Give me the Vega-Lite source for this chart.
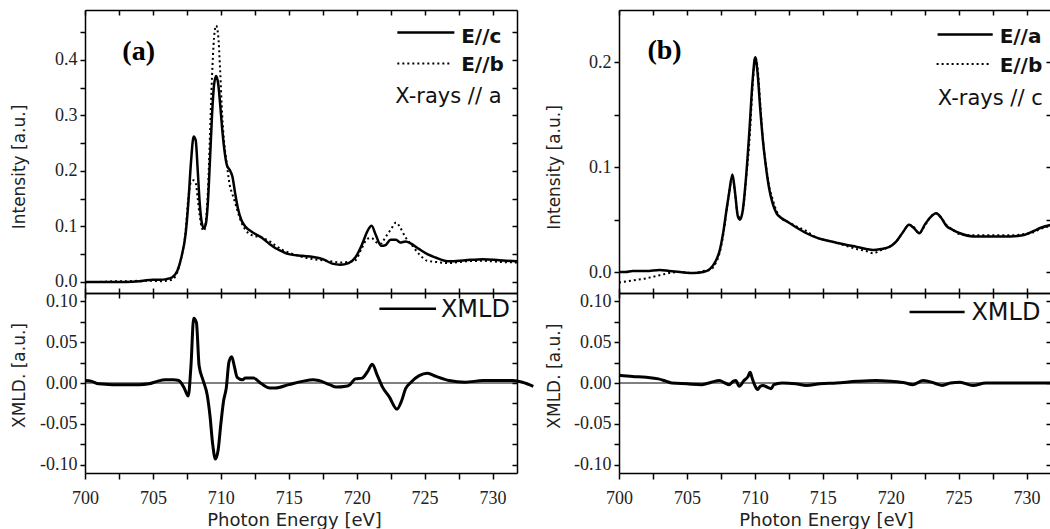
{
  "$schema": "https://vega.github.io/schema/vega-lite/v6.json",
  "autosize": {"type": "pad"},
  "padding": {"left": 9, "top": 9, "right": 0, "bottom": 0},
  "background": "white",
  "config": {
    "view": {"stroke": null},
    "axis": {
      "domainColor": "#000", "domainWidth": 1.5, "tickColor": "#000", "tickWidth": 1.5,
      "labelFont": "Liberation Serif", "labelFontSize": 18, "labelColor": "#222",
      "titleFont": "DejaVu Sans", "titleFontSize": 17, "titleFontWeight": "normal", "titleColor": "#222",
      "grid": false, "labelOverlap": false, "labelFlush": false, "labelBound": false
    }
  },
  "datasets": {
    "aC": [
      {"E":700,"I":0},{"E":700.5,"I":0},{"E":701,"I":0},{"E":702,"I":0},{"E":703,"I":0},{"E":704,"I":0.001},{"E":704.5,"I":0.003},{"E":705,"I":0.004},{"E":705.5,"I":0.004},{"E":706,"I":0.005},{"E":706.4,"I":0.008},{"E":706.8,"I":0.02},{"E":707.1,"I":0.045},{"E":707.4,"I":0.085},{"E":707.6,"I":0.14},{"E":707.8,"I":0.215},{"E":708,"I":0.262},{"E":708.15,"I":0.255},{"E":708.3,"I":0.2},{"E":708.45,"I":0.14},{"E":708.6,"I":0.106},{"E":708.75,"I":0.097},{"E":708.9,"I":0.105},{"E":709.05,"I":0.145},{"E":709.2,"I":0.22},{"E":709.35,"I":0.3},{"E":709.5,"I":0.355},{"E":709.65,"I":0.371},{"E":709.8,"I":0.358},{"E":709.95,"I":0.32},{"E":710.1,"I":0.275},{"E":710.25,"I":0.24},{"E":710.45,"I":0.21},{"E":710.65,"I":0.202},{"E":710.85,"I":0.19},{"E":711.05,"I":0.16},{"E":711.25,"I":0.133},{"E":711.5,"I":0.112},{"E":711.8,"I":0.1},{"E":712.3,"I":0.09},{"E":713,"I":0.08},{"E":713.6,"I":0.068},{"E":714,"I":0.061},{"E":714.5,"I":0.055},{"E":715,"I":0.05},{"E":716,"I":0.047},{"E":716.8,"I":0.045},{"E":717.5,"I":0.041},{"E":718.2,"I":0.033},{"E":718.8,"I":0.031},{"E":719.4,"I":0.034},{"E":719.9,"I":0.044},{"E":720.4,"I":0.068},{"E":720.8,"I":0.092},{"E":721.1,"I":0.101},{"E":721.4,"I":0.085},{"E":721.8,"I":0.065},{"E":722.1,"I":0.066},{"E":722.5,"I":0.076},{"E":722.9,"I":0.076},{"E":723.2,"I":0.071},{"E":723.6,"I":0.073},{"E":724,"I":0.069},{"E":724.6,"I":0.059},{"E":725.2,"I":0.05},{"E":725.8,"I":0.044},{"E":726.8,"I":0.037},{"E":728,"I":0.039},{"E":729.3,"I":0.041},{"E":730.5,"I":0.039},{"E":731.8,"I":0.037}
    ],
    "aB": [
      {"E":700,"I":-0.001},{"E":700.5,"I":0},{"E":701,"I":0},{"E":702,"I":0.001},{"E":703,"I":0.001},{"E":704,"I":0.002},{"E":704.5,"I":0.002},{"E":705,"I":0.002},{"E":705.5,"I":0.001},{"E":706,"I":0.002},{"E":706.4,"I":0.004},{"E":706.8,"I":0.018},{"E":707.1,"I":0.045},{"E":707.4,"I":0.09},{"E":707.6,"I":0.15},{"E":707.8,"I":0.18},{"E":708,"I":0.183},{"E":708.15,"I":0.178},{"E":708.3,"I":0.15},{"E":708.45,"I":0.118},{"E":708.6,"I":0.098},{"E":708.75,"I":0.092},{"E":708.9,"I":0.11},{"E":709.05,"I":0.165},{"E":709.2,"I":0.265},{"E":709.35,"I":0.37},{"E":709.5,"I":0.44},{"E":709.65,"I":0.462},{"E":709.8,"I":0.445},{"E":709.95,"I":0.38},{"E":710.1,"I":0.3},{"E":710.25,"I":0.25},{"E":710.45,"I":0.21},{"E":710.65,"I":0.175},{"E":710.85,"I":0.158},{"E":711.05,"I":0.143},{"E":711.25,"I":0.126},{"E":711.5,"I":0.108},{"E":711.8,"I":0.094},{"E":712.3,"I":0.084},{"E":713,"I":0.08},{"E":713.6,"I":0.073},{"E":714,"I":0.066},{"E":714.5,"I":0.058},{"E":715,"I":0.053},{"E":716,"I":0.045},{"E":716.8,"I":0.041},{"E":717.5,"I":0.039},{"E":718.2,"I":0.037},{"E":718.8,"I":0.035},{"E":719.4,"I":0.036},{"E":719.9,"I":0.039},{"E":720.4,"I":0.062},{"E":720.8,"I":0.078},{"E":721.1,"I":0.079},{"E":721.4,"I":0.072},{"E":721.8,"I":0.069},{"E":722.1,"I":0.08},{"E":722.5,"I":0.094},{"E":722.9,"I":0.107},{"E":723.2,"I":0.098},{"E":723.6,"I":0.08},{"E":724,"I":0.068},{"E":724.6,"I":0.05},{"E":725.2,"I":0.038},{"E":725.8,"I":0.036},{"E":726.8,"I":0.034},{"E":728,"I":0.037},{"E":729.3,"I":0.038},{"E":730.5,"I":0.036},{"E":731.8,"I":0.035}
    ],
    "aX": [
      {"E":700,"X":0.003},{"E":700.5,"X":0.002},{"E":701,"X":-0.001},{"E":702,"X":-0.002},{"E":703,"X":-0.002},{"E":704,"X":-0.002},{"E":704.7,"X":-0.001},{"E":705.3,"X":0.002},{"E":705.9,"X":0.004},{"E":706.5,"X":0.004},{"E":706.9,"X":0.003},{"E":707.3,"X":-0.006},{"E":707.6,"X":-0.016},{"E":707.8,"X":0.021},{"E":708,"X":0.079},{"E":708.2,"X":0.074},{"E":708.4,"X":0.021},{"E":708.7,"X":0.003},{"E":709,"X":-0.015},{"E":709.2,"X":-0.04},{"E":709.4,"X":-0.075},{"E":709.6,"X":-0.093},{"E":709.8,"X":-0.082},{"E":710,"X":-0.05},{"E":710.2,"X":-0.022},{"E":710.4,"X":-0.006},{"E":710.6,"X":0.026},{"E":710.8,"X":0.032},{"E":711,"X":0.02},{"E":711.2,"X":0.007},{"E":711.6,"X":0.004},{"E":711.8,"X":0.006},{"E":712.4,"X":0.006},{"E":713,"X":-0.001},{"E":713.6,"X":-0.006},{"E":714,"X":-0.006},{"E":715,"X":-0.002},{"E":716,"X":0.002},{"E":716.8,"X":0.004},{"E":717.2,"X":0.003},{"E":718,"X":-0.002},{"E":718.5,"X":-0.005},{"E":719.2,"X":-0.004},{"E":719.5,"X":-0.002},{"E":719.9,"X":0.005},{"E":720.4,"X":0.006},{"E":720.8,"X":0.014},{"E":721.15,"X":0.023},{"E":721.5,"X":0.01},{"E":721.9,"X":-0.005},{"E":722.4,"X":-0.017},{"E":722.97,"X":-0.032},{"E":723.3,"X":-0.022},{"E":723.6,"X":-0.007},{"E":724,"X":0.001},{"E":724.6,"X":0.009},{"E":725.2,"X":0.012},{"E":725.85,"X":0.008},{"E":726.8,"X":0.003},{"E":728,"X":0.001},{"E":729.3,"X":0.003},{"E":730.5,"X":0.003},{"E":731.5,"X":0.003},{"E":732.2,"X":0.001},{"E":733,"X":-0.004}
    ],
    "bA": [
      {"E":700,"I":0},{"E":700.5,"I":0},{"E":701,"I":0.001},{"E":702,"I":0.001},{"E":703,"I":0.002},{"E":703.7,"I":0.001},{"E":704.5,"I":0},{"E":705.5,"I":-0.001},{"E":706.2,"I":0},{"E":706.7,"I":0.003},{"E":707.1,"I":0.01},{"E":707.4,"I":0.02},{"E":707.7,"I":0.04},{"E":707.9,"I":0.058},{"E":708.1,"I":0.075},{"E":708.35,"I":0.093},{"E":708.55,"I":0.075},{"E":708.75,"I":0.053},{"E":708.9,"I":0.05},{"E":709.1,"I":0.058},{"E":709.35,"I":0.09},{"E":709.6,"I":0.135},{"E":709.85,"I":0.185},{"E":710.03,"I":0.205},{"E":710.2,"I":0.19},{"E":710.4,"I":0.155},{"E":710.6,"I":0.125},{"E":710.8,"I":0.102},{"E":711.05,"I":0.08},{"E":711.3,"I":0.066},{"E":711.6,"I":0.056},{"E":711.9,"I":0.052},{"E":712.4,"I":0.048},{"E":713,"I":0.043},{"E":713.8,"I":0.037},{"E":714.5,"I":0.033},{"E":715,"I":0.031},{"E":716,"I":0.028},{"E":716.7,"I":0.026},{"E":717.5,"I":0.024},{"E":718.2,"I":0.022},{"E":718.7,"I":0.021},{"E":719.3,"I":0.022},{"E":719.9,"I":0.024},{"E":720.4,"I":0.029},{"E":720.9,"I":0.038},{"E":721.35,"I":0.045},{"E":721.7,"I":0.042},{"E":722.1,"I":0.037},{"E":722.5,"I":0.045},{"E":722.9,"I":0.052},{"E":723.35,"I":0.056},{"E":723.7,"I":0.052},{"E":724.1,"I":0.044},{"E":724.6,"I":0.04},{"E":725.1,"I":0.037},{"E":726.05,"I":0.034},{"E":727,"I":0.034},{"E":727.8,"I":0.034},{"E":728.8,"I":0.034},{"E":729.7,"I":0.035},{"E":730.5,"I":0.039},{"E":731,"I":0.042},{"E":731.8,"I":0.045}
    ],
    "bB": [
      {"E":700,"I":-0.01},{"E":700.5,"I":-0.009},{"E":701,"I":-0.008},{"E":702,"I":-0.006},{"E":703,"I":-0.003},{"E":703.7,"I":-0.001},{"E":704.5,"I":0},{"E":705.5,"I":-0.001},{"E":706.2,"I":0.001},{"E":706.7,"I":0.002},{"E":707.1,"I":0.008},{"E":707.4,"I":0.018},{"E":707.7,"I":0.038},{"E":707.9,"I":0.057},{"E":708.1,"I":0.075},{"E":708.35,"I":0.091},{"E":708.55,"I":0.074},{"E":708.75,"I":0.054},{"E":708.9,"I":0.052},{"E":709.1,"I":0.057},{"E":709.35,"I":0.088},{"E":709.6,"I":0.125},{"E":709.85,"I":0.18},{"E":710.03,"I":0.205},{"E":710.2,"I":0.195},{"E":710.4,"I":0.16},{"E":710.6,"I":0.125},{"E":710.8,"I":0.104},{"E":711.05,"I":0.082},{"E":711.3,"I":0.07},{"E":711.6,"I":0.058},{"E":711.9,"I":0.052},{"E":712.4,"I":0.048},{"E":713,"I":0.044},{"E":713.8,"I":0.039},{"E":714.5,"I":0.033},{"E":715,"I":0.031},{"E":716,"I":0.028},{"E":716.7,"I":0.025},{"E":717.5,"I":0.022},{"E":718.2,"I":0.02},{"E":718.7,"I":0.018},{"E":719.3,"I":0.021},{"E":719.9,"I":0.024},{"E":720.4,"I":0.029},{"E":720.9,"I":0.038},{"E":721.35,"I":0.045},{"E":721.7,"I":0.043},{"E":722.1,"I":0.037},{"E":722.5,"I":0.044},{"E":722.9,"I":0.052},{"E":723.35,"I":0.056},{"E":723.7,"I":0.052},{"E":724.1,"I":0.045},{"E":724.6,"I":0.04},{"E":725.1,"I":0.036},{"E":726.05,"I":0.035},{"E":727,"I":0.035},{"E":727.8,"I":0.035},{"E":728.8,"I":0.035},{"E":729.7,"I":0.036},{"E":730.5,"I":0.038},{"E":731,"I":0.041},{"E":731.8,"I":0.044}
    ],
    "bX": [
      {"E":700,"X":0.0094},{"E":701,"X":0.008},{"E":702,"X":0.007},{"E":702.9,"X":0.005},{"E":703.5,"X":0.002},{"E":703.9,"X":0},{"E":705,"X":-0.001},{"E":706.1,"X":-0.002},{"E":706.8,"X":0.001},{"E":707.4,"X":0.003},{"E":707.8,"X":0},{"E":708.1,"X":-0.002},{"E":708.4,"X":0.002},{"E":708.6,"X":0.003},{"E":708.85,"X":-0.004},{"E":709.2,"X":0.003},{"E":709.5,"X":0.008},{"E":709.65,"X":0.013},{"E":709.8,"X":0.006},{"E":710,"X":-0.003},{"E":710.2,"X":-0.008},{"E":710.4,"X":-0.004},{"E":710.6,"X":-0.003},{"E":710.9,"X":-0.005},{"E":711.2,"X":-0.007},{"E":711.4,"X":-0.002},{"E":712,"X":0},{"E":713,"X":-0.001},{"E":713.8,"X":-0.003},{"E":714.8,"X":-0.001},{"E":716,"X":0},{"E":717.5,"X":0.002},{"E":718.9,"X":0.003},{"E":720,"X":0.002},{"E":721.1,"X":0},{"E":721.6,"X":-0.002},{"E":722.4,"X":0.003},{"E":723.2,"X":0},{"E":723.8,"X":-0.003},{"E":724.4,"X":0},{"E":725.1,"X":0.001},{"E":726.05,"X":-0.003},{"E":727,"X":0},{"E":728.5,"X":0},{"E":730,"X":0},{"E":731.8,"X":0}
    ]
  },
  "columns": 2,
  "spacing": {"row": 0, "column": 102},
  "bounds": "flush",
  "concat": [
    {
      "width": 432, "height": 283,
      "data": {"values": [{}]},
      "resolve": {"axis": {"x": "independent", "y": "independent"}},
      "layer": [
        {"data": {"name": "aB"}, "mark": {"type": "line", "color": "#000", "strokeWidth": 2, "strokeDash": [2, 3], "interpolate": "monotone"},
         "encoding": {"x": {"field": "E", "type": "quantitative", "scale": {"domain": [700, 731.8], "nice": false, "zero": false}, "axis": null},
                      "y": {"field": "I", "type": "quantitative", "scale": {"domain": [-0.02, 0.49], "nice": false, "zero": false}, "axis": null}}},
        {"data": {"name": "aC"}, "mark": {"type": "line", "color": "#000", "strokeWidth": 2.5, "interpolate": "monotone"},
         "encoding": {"x": {"field": "E", "type": "quantitative", "scale": {"domain": [700, 731.8], "nice": false, "zero": false},
                            "axis": {"orient": "bottom", "values": [700,702.5,705,707.5,710,712.5,715,717.5,720,722.5,725,727.5,730], "labels": false, "tickSize": -5, "title": null}},
                      "y": {"field": "I", "type": "quantitative", "scale": {"domain": [-0.02, 0.49], "nice": false, "zero": false},
                            "axis": {"orient": "left", "values": [0,0.05,0.1,0.15,0.2,0.25,0.3,0.35,0.4,0.45], "format": ".1f",
                                     "labelExpr": "abs(datum.value*10 - round(datum.value*10)) < 0.001 ? datum.label : ''",
                                     "tickSize": 5, "labelPadding": 3, "title": "Intensity [a.u.]", "titleX": -66, "titleY": 156.5, "titleAngle": -90, "titleBaseline": "middle", "titleAlign": "center"}}}},
        {"mark": {"type": "point", "opacity": 0},
         "encoding": {"x": {"datum": 700, "type": "quantitative", "scale": {"domain": [700, 731.8], "nice": false, "zero": false},
                            "axis": {"orient": "top", "values": [700,702.5,705,707.5,710,712.5,715,717.5,720,722.5,725,727.5,730], "labels": false, "tickSize": -5, "title": null}},
                      "y": {"datum": 0, "type": "quantitative", "scale": {"domain": [-0.02, 0.49], "nice": false, "zero": false},
                            "axis": {"orient": "right", "values": [0,0.05,0.1,0.15,0.2,0.25,0.3,0.35,0.4,0.45], "labels": false, "tickSize": -5, "title": null}}}},
        {"mark": {"type": "rule", "color": "#000", "strokeWidth": 2.5},
         "encoding": {"x": {"datum": 722.99, "type": "quantitative", "axis": null}, "x2": {"datum": 727.19}, "y": {"datum": 0.4494, "type": "quantitative", "axis": null}}},
        {"mark": {"type": "rule", "color": "#000", "strokeWidth": 2, "strokeDash": [2, 3]},
         "encoding": {"x": {"datum": 722.99, "type": "quantitative", "axis": null}, "x2": {"datum": 726.9}, "y": {"datum": 0.3935, "type": "quantitative", "axis": null}}},
        {"mark": {"type": "text", "font": "DejaVu Sans", "fontWeight": "bold", "fontSize": 20, "align": "left", "baseline": "middle", "color": "#111"},
         "encoding": {"x": {"datum": 727.69, "type": "quantitative", "axis": null}, "y": {"datum": 0.4418, "type": "quantitative", "axis": null}, "text": {"value": "E//c"}}},
        {"mark": {"type": "text", "font": "DejaVu Sans", "fontWeight": "bold", "fontSize": 20, "align": "left", "baseline": "middle", "color": "#111"},
         "encoding": {"x": {"datum": 727.69, "type": "quantitative", "axis": null}, "y": {"datum": 0.3905, "type": "quantitative", "axis": null}, "text": {"value": "E//b"}}},
        {"mark": {"type": "text", "font": "DejaVu Sans", "fontSize": 21, "align": "right", "baseline": "middle", "color": "#111"},
         "encoding": {"x": {"datum": 730.66, "type": "quantitative", "axis": null}, "y": {"datum": 0.3328, "type": "quantitative", "axis": null}, "text": {"value": "X-rays // a"}}},
        {"mark": {"type": "text", "font": "Liberation Serif", "fontWeight": "bold", "fontSize": 28, "align": "left", "baseline": "middle", "color": "#000"},
         "encoding": {"x": {"datum": 702.75, "type": "quantitative", "axis": null}, "y": {"datum": 0.4148, "type": "quantitative", "axis": null}, "text": {"value": "(a)"}}}
      ]
    },
    {
      "width": 432, "height": 283,
      "data": {"values": [{}]},
      "resolve": {"axis": {"x": "independent", "y": "independent"}},
      "layer": [
        {"data": {"name": "bB"}, "mark": {"type": "line", "color": "#000", "strokeWidth": 2, "strokeDash": [2, 3], "interpolate": "monotone"},
         "encoding": {"x": {"field": "E", "type": "quantitative", "scale": {"domain": [700, 731.8], "nice": false, "zero": false}, "axis": null},
                      "y": {"field": "I", "type": "quantitative", "scale": {"domain": [-0.02, 0.25], "nice": false, "zero": false}, "axis": null}}},
        {"data": {"name": "bA"}, "mark": {"type": "line", "color": "#000", "strokeWidth": 2.5, "interpolate": "monotone"},
         "encoding": {"x": {"field": "E", "type": "quantitative", "scale": {"domain": [700, 731.8], "nice": false, "zero": false},
                            "axis": {"orient": "bottom", "values": [700,702.5,705,707.5,710,712.5,715,717.5,720,722.5,725,727.5,730], "labels": false, "tickSize": -5, "title": null}},
                      "y": {"field": "I", "type": "quantitative", "scale": {"domain": [-0.02, 0.25], "nice": false, "zero": false},
                            "axis": {"orient": "left", "values": [0,0.05,0.1,0.15,0.2], "format": ".1f",
                                     "labelExpr": "abs(datum.value*10 - round(datum.value*10)) < 0.001 ? datum.label : ''",
                                     "tickSize": 5, "labelPadding": 3, "title": "Intensity [a.u.]", "titleX": -65, "titleY": 157, "titleAngle": -90, "titleBaseline": "middle", "titleAlign": "center"}}}},
        {"mark": {"type": "point", "opacity": 0},
         "encoding": {"x": {"datum": 700, "type": "quantitative", "scale": {"domain": [700, 731.8], "nice": false, "zero": false},
                            "axis": {"orient": "top", "values": [700,702.5,705,707.5,710,712.5,715,717.5,720,722.5,725,727.5,730], "labels": false, "tickSize": -5, "title": null}},
                      "y": {"datum": 0, "type": "quantitative", "scale": {"domain": [-0.02, 0.25], "nice": false, "zero": false},
                            "axis": {"orient": "right", "values": [0,0.05,0.1,0.15,0.2], "labels": false, "tickSize": -5, "title": null}}}},
        {"mark": {"type": "rule", "color": "#000", "strokeWidth": 2.5},
         "encoding": {"x": {"datum": 723.45, "type": "quantitative", "axis": null}, "x2": {"datum": 727.51}, "y": {"datum": 0.2267, "type": "quantitative", "axis": null}}},
        {"mark": {"type": "rule", "color": "#000", "strokeWidth": 2, "strokeDash": [2, 3]},
         "encoding": {"x": {"datum": 723.38, "type": "quantitative", "axis": null}, "x2": {"datum": 727.29}, "y": {"datum": 0.1984, "type": "quantitative", "axis": null}}},
        {"mark": {"type": "text", "font": "DejaVu Sans", "fontWeight": "bold", "fontSize": 20, "align": "left", "baseline": "middle", "color": "#111"},
         "encoding": {"x": {"datum": 728.02, "type": "quantitative", "axis": null}, "y": {"datum": 0.2245, "type": "quantitative", "axis": null}, "text": {"value": "E//a"}}},
        {"mark": {"type": "text", "font": "DejaVu Sans", "fontWeight": "bold", "fontSize": 20, "align": "left", "baseline": "middle", "color": "#111"},
         "encoding": {"x": {"datum": 728.02, "type": "quantitative", "axis": null}, "y": {"datum": 0.197, "type": "quantitative", "axis": null}, "text": {"value": "E//b"}}},
        {"mark": {"type": "text", "font": "DejaVu Sans", "fontSize": 21, "align": "right", "baseline": "middle", "color": "#111"},
         "encoding": {"x": {"datum": 731.19, "type": "quantitative", "axis": null}, "y": {"datum": 0.1648, "type": "quantitative", "axis": null}, "text": {"value": "X-rays // c"}}},
        {"mark": {"type": "text", "font": "Liberation Serif", "fontWeight": "bold", "fontSize": 28, "align": "left", "baseline": "middle", "color": "#000"},
         "encoding": {"x": {"datum": 702.09, "type": "quantitative", "axis": null}, "y": {"datum": 0.211, "type": "quantitative", "axis": null}, "text": {"value": "(b)"}}}
      ]
    },
    {
      "width": 432, "height": 180,
      "data": {"values": [{}]},
      "resolve": {"axis": {"x": "independent", "y": "independent"}},
      "layer": [
        {"mark": {"type": "rule", "color": "#000", "strokeWidth": 1},
         "encoding": {"y": {"datum": 0, "type": "quantitative", "scale": {"domain": [-0.11, 0.11], "nice": false, "zero": false}, "axis": null}}},
        {"data": {"name": "aX"}, "mark": {"type": "line", "color": "#000", "strokeWidth": 3, "interpolate": "monotone"},
         "encoding": {"x": {"field": "E", "type": "quantitative", "scale": {"domain": [700, 731.8], "nice": false, "zero": false},
                            "axis": {"orient": "bottom", "values": [700,702.5,705,707.5,710,712.5,715,717.5,720,722.5,725,727.5,730], "tickSize": 6, "labelPadding": 10,
                                     "labelExpr": "datum.value % 5 == 0 ? datum.label : ''",
                                     "title": "Photon Energy [eV]", "titleFontSize": 18, "titleX": 209, "titleY": 52, "titleBaseline": "alphabetic", "titleAlign": "center"}},
                      "y": {"field": "X", "type": "quantitative", "scale": {"domain": [-0.11, 0.11], "nice": false, "zero": false},
                            "axis": {"orient": "left", "values": [-0.1,-0.075,-0.05,-0.025,0,0.025,0.05,0.075,0.1], "format": ".2f",
                                     "labelExpr": "abs(datum.value*20 - round(datum.value*20)) < 0.001 ? replace(datum.label, '\u2212', '-') : ''",
                                     "tickSize": 5, "labelPadding": 3, "title": "XMLD. [a.u.]", "titleX": -66, "titleY": 82, "titleAngle": -90, "titleBaseline": "middle", "titleAlign": "center"}}}},
        {"mark": {"type": "point", "opacity": 0},
         "encoding": {"x": {"datum": 700, "type": "quantitative", "scale": {"domain": [700, 731.8], "nice": false, "zero": false},
                            "axis": {"orient": "top", "values": [700,702.5,705,707.5,710,712.5,715,717.5,720,722.5,725,727.5,730], "labels": false, "tickSize": -5, "title": null}},
                      "y": {"datum": 0, "type": "quantitative", "scale": {"domain": [-0.11, 0.11], "nice": false, "zero": false},
                            "axis": {"orient": "right", "values": [-0.1,-0.075,-0.05,-0.025,0,0.025,0.05,0.075,0.1], "labels": false, "tickSize": -5, "title": null}}}},
        {"mark": {"type": "rule", "color": "#000", "strokeWidth": 2.5},
         "encoding": {"x": {"datum": 721.67, "type": "quantitative", "axis": null}, "x2": {"datum": 725.84}, "y": {"datum": 0.0907, "type": "quantitative", "axis": null}}},
        {"mark": {"type": "text", "font": "DejaVu Sans", "fontSize": 24, "align": "left", "baseline": "middle", "color": "#111"},
         "encoding": {"x": {"datum": 726.2, "type": "quantitative", "axis": null}, "y": {"datum": 0.0895, "type": "quantitative", "axis": null}, "text": {"value": "XMLD"}}}
      ]
    },
    {
      "width": 432, "height": 180,
      "data": {"values": [{}]},
      "resolve": {"axis": {"x": "independent", "y": "independent"}},
      "layer": [
        {"mark": {"type": "rule", "color": "#000", "strokeWidth": 1},
         "encoding": {"y": {"datum": 0, "type": "quantitative", "scale": {"domain": [-0.11, 0.11], "nice": false, "zero": false}, "axis": null}}},
        {"data": {"name": "bX"}, "mark": {"type": "line", "color": "#000", "strokeWidth": 3, "interpolate": "monotone"},
         "encoding": {"x": {"field": "E", "type": "quantitative", "scale": {"domain": [700, 731.8], "nice": false, "zero": false},
                            "axis": {"orient": "bottom", "values": [700,702.5,705,707.5,710,712.5,715,717.5,720,722.5,725,727.5,730], "tickSize": 6, "labelPadding": 10,
                                     "labelExpr": "datum.value % 5 == 0 ? datum.label : ''",
                                     "title": "Photon Energy [eV]", "titleFontSize": 18, "titleX": 207, "titleY": 52, "titleBaseline": "alphabetic", "titleAlign": "center"}},
                      "y": {"field": "X", "type": "quantitative", "scale": {"domain": [-0.11, 0.11], "nice": false, "zero": false},
                            "axis": {"orient": "left", "values": [-0.1,-0.075,-0.05,-0.025,0,0.025,0.05,0.075,0.1], "format": ".2f",
                                     "labelExpr": "abs(datum.value*20 - round(datum.value*20)) < 0.001 ? replace(datum.label, '\u2212', '-') : ''",
                                     "tickSize": 5, "labelPadding": 3, "title": "XMLD. [a.u.]", "titleX": -65, "titleY": 82.7, "titleAngle": -90, "titleBaseline": "middle", "titleAlign": "center"}}}},
        {"mark": {"type": "point", "opacity": 0},
         "encoding": {"x": {"datum": 700, "type": "quantitative", "scale": {"domain": [700, 731.8], "nice": false, "zero": false},
                            "axis": {"orient": "top", "values": [700,702.5,705,707.5,710,712.5,715,717.5,720,722.5,725,727.5,730], "labels": false, "tickSize": -5, "title": null}},
                      "y": {"datum": 0, "type": "quantitative", "scale": {"domain": [-0.11, 0.11], "nice": false, "zero": false},
                            "axis": {"orient": "right", "values": [-0.1,-0.075,-0.05,-0.025,0,0.025,0.05,0.075,0.1], "labels": false, "tickSize": -5, "title": null}}}},
        {"mark": {"type": "rule", "color": "#000", "strokeWidth": 2.5},
         "encoding": {"x": {"datum": 721.39, "type": "quantitative", "axis": null}, "x2": {"datum": 725.44}, "y": {"datum": 0.0868, "type": "quantitative", "axis": null}}},
        {"mark": {"type": "text", "font": "DejaVu Sans", "fontSize": 24, "align": "left", "baseline": "middle", "color": "#111"},
         "encoding": {"x": {"datum": 725.94, "type": "quantitative", "axis": null}, "y": {"datum": 0.0856, "type": "quantitative", "axis": null}, "text": {"value": "XMLD"}}}
      ]
    }
  ]
}
